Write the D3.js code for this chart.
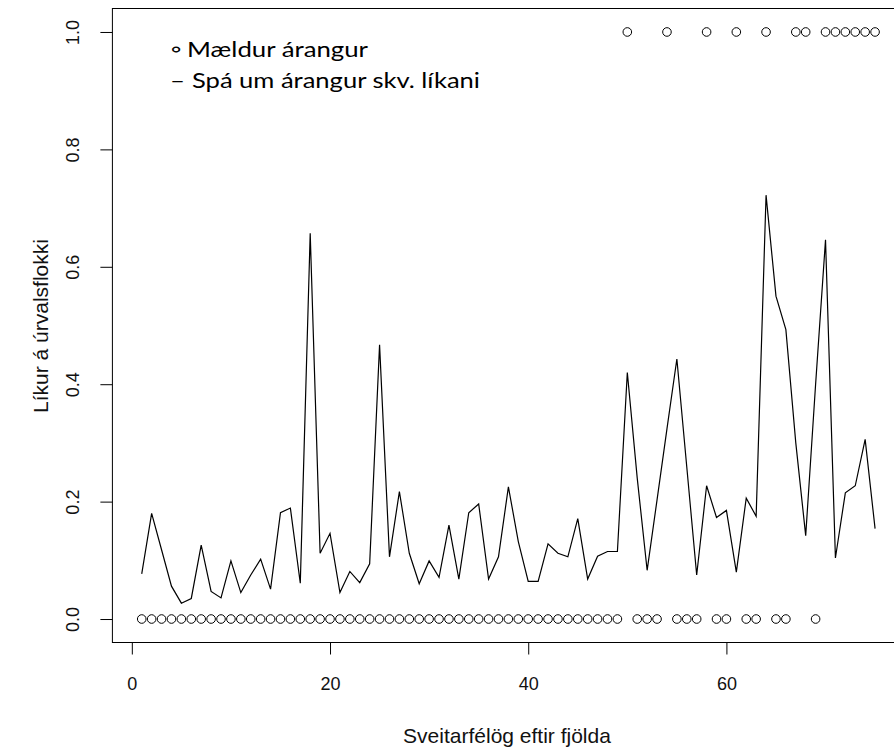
<!DOCTYPE html>
<html>
<head>
<meta charset="utf-8">
<script src="https://cdn.jsdelivr.net/npm/d3@7"></script>
<style>
  body { margin: 0; background: #fff; }
  svg { display: block; }
</style>
</head>
<body>
<div id="chart"></div>
<script>
// sveitarfélög 1..75, spá líkans og mældur árangur
const predicted = [
  0.077, 0.180, 0.118, 0.056, 0.027, 0.035, 0.126, 0.047, 0.036, 0.099,
  0.045, 0.075, 0.102, 0.051, 0.181, 0.189, 0.061, 0.657, 0.112, 0.146,
  0.045, 0.081, 0.062, 0.094, 0.467, 0.106, 0.217, 0.112, 0.060, 0.099,
  0.071, 0.160, 0.068, 0.181, 0.196, 0.068, 0.106, 0.225, 0.132, 0.064,
  0.064, 0.128, 0.112, 0.106, 0.171, 0.068, 0.107, 0.115, 0.115, 0.420,
  0.240, 0.083, 0.203, 0.324, 0.443, 0.259, 0.075, 0.227, 0.173, 0.185,
  0.080, 0.206, 0.175, 0.722, 0.550, 0.493, 0.300, 0.142, 0.400, 0.646,
  0.104, 0.215, 0.227, 0.306, 0.154
]
const observed = [
  0, 0, 0, 0, 0, 0, 0, 0, 0, 0,
  0, 0, 0, 0, 0, 0, 0, 0, 0, 0,
  0, 0, 0, 0, 0, 0, 0, 0, 0, 0,
  0, 0, 0, 0, 0, 0, 0, 0, 0, 0,
  0, 0, 0, 0, 0, 0, 0, 0, 0, 1,
  0, 0, 0, 1, 0, 0, 0, 1, 0, 0,
  1, 0, 0, 1, 0, 0, 1, 1, 0, 1,
  1, 1, 1, 1, 1
]
const xTicks = [0, 20, 40, 60]
const yTicks = [0, 0.2, 0.4, 0.6, 0.8, 1.0]
const legendSymbols = ['\u25E6', '\u2013']
const legendLabels = ['Mældur árangur', 'Spá um árangur skv. líkani']

const fullWidth = 894,
  fullHeight = 751

const data = predicted.map((p, i) => ({ i: i + 1, p: p, o: observed[i] }))

// R style: 4% padding round the data range
const xScale = d3.scaleLinear()
  .domain([1 - 0.04 * 74, 75 + 0.04 * 74])
  .range([112.4, 904.4])

const yScale = d3.scaleLinear()
  .domain([-0.04, 1.04])
  .range([642.5, 8.5])

const svg = d3.select('#chart')
  .append('svg')
    .attr('width', fullWidth)
    .attr('height', fullHeight)
    .style('font-family', '"Liberation Sans", Arial, sans-serif')

// box
svg.append('rect')
  .attr('x', xScale.range()[0])
  .attr('y', yScale.range()[1])
  .attr('width', xScale.range()[1] - xScale.range()[0])
  .attr('height', yScale.range()[0] - yScale.range()[1])
  .attr('fill', 'none')
  .attr('stroke', '#000')
  .attr('stroke-width', 1)

// x axis
const xAxis = svg.append('g')
  .attr('transform', `translate(0, ${yScale.range()[0]})`)
  .call(d3.axisBottom(xScale).tickValues(xTicks).tickSize(12).tickFormat(d3.format('d')))
xAxis.select('.domain').remove()
xAxis.selectAll('line').attr('stroke', '#000')
xAxis.selectAll('text')
  .attr('y', 47)
  .attr('dy', 0)
  .attr('fill', '#111')
  .style('font-size', '18px')

// y axis, labels parallel to the axis
const yAxis = svg.append('g')
  .attr('transform', `translate(${xScale.range()[0]}, 0)`)
  .call(d3.axisLeft(yScale).tickValues(yTicks).tickSize(12).tickFormat(d3.format('.1f')))
yAxis.select('.domain').remove()
yAxis.selectAll('line').attr('stroke', '#000')
yAxis.selectAll('text')
  .attr('x', 0)
  .attr('dy', 0)
  .attr('text-anchor', 'middle')
  .attr('transform', 'translate(-33, 0) rotate(-90)')
  .attr('fill', '#111')
  .style('font-size', '18px')

// axis titles
svg.append('text')
  .attr('x', 507)
  .attr('y', 743)
  .attr('text-anchor', 'middle')
  .attr('fill', '#111')
  .style('font-size', '21px')
  .text('Sveitarfélög eftir fjölda')

svg.append('text')
  .attr('transform', `translate(48, 326) rotate(-90)`)
  .attr('text-anchor', 'middle')
  .attr('fill', '#111')
  .style('font-size', '21px')
  .text('Líkur á úrvalsflokki')

// prediction line
const line = d3.line()
  .x(d => xScale(d.i))
  .y(d => yScale(d.p))

svg.append('path')
  .datum(data)
  .attr('d', line)
  .attr('fill', 'none')
  .attr('stroke', '#000')
  .attr('stroke-width', 1.2)

// observed outcome
svg.selectAll('circle.obs')
  .data(data)
  .enter()
  .append('circle')
    .attr('class', 'obs')
    .attr('cx', d => xScale(d.i))
    .attr('cy', d => yScale(d.o))
    .attr('r', 4.3)
    .attr('fill', 'none')
    .attr('stroke', '#000')
    .attr('stroke-width', 1)

// pasted legend text (Calibri-like)
const legend = svg.append('g')
  .style('font-family', 'Lato, "Open Sans", sans-serif')
  .style('font-size', '22px')
  .attr('fill', '#000')

legend.selectAll('text.sym')
  .data(legendSymbols)
  .enter()
  .append('text')
    .attr('class', 'sym')
    .attr('x', 170)
    .attr('y', (d, k) => 57 + k * 31)
    .attr('textLength', (d, k) => k === 0 ? 12 : 15)
    .attr('lengthAdjust', 'spacingAndGlyphs')
    .text(d => d)

legend.selectAll('text.lab')
  .data(legendLabels)
  .enter()
  .append('text')
    .attr('class', 'lab')
    .attr('x', (d, k) => k === 0 ? 187 : 192)
    .attr('y', (d, k) => 57 + k * 31)
    .attr('textLength', (d, k) => k === 0 ? 181 : 288)
    .attr('lengthAdjust', 'spacingAndGlyphs')
    .text(d => d)
</script>
</body>
</html>
